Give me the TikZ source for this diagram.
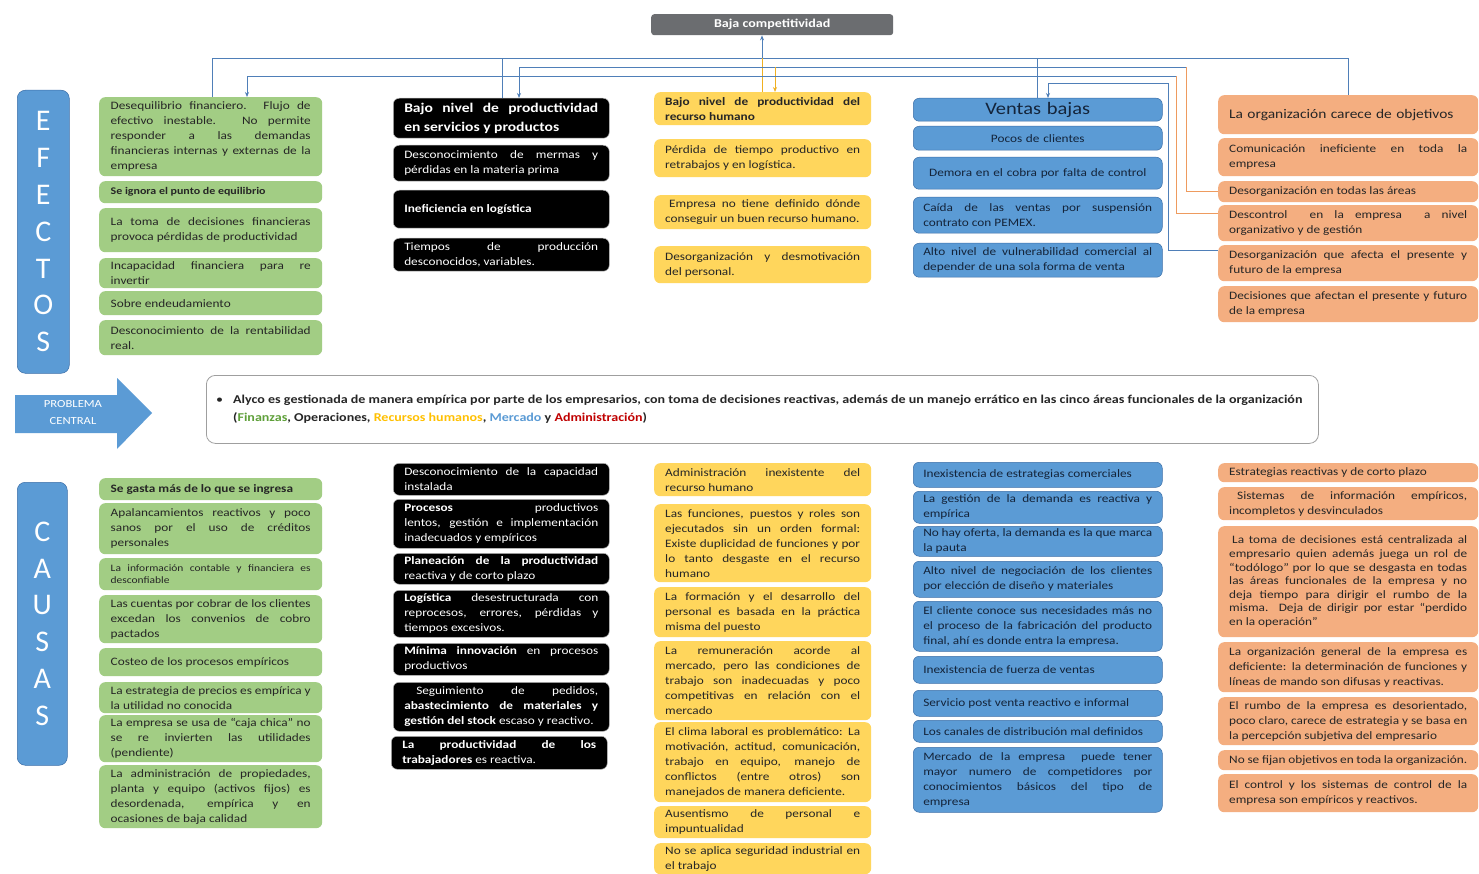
\documentclass[tikz,border=0pt]{standalone}
\usepackage{fontspec}
\setmainfont{Carlito}[FakeStretch=1.17]
\newfontfamily\plainfont{Carlito}
\usetikzlibrary{arrows.meta}
\definecolor{grn}{HTML}{A2CD84}
\definecolor{yel}{HTML}{FFD65C}
\definecolor{blu}{HTML}{5B9BD5}
\definecolor{bludk}{HTML}{3C6FA8}
\definecolor{org}{HTML}{F4AE80}
\definecolor{txt}{HTML}{262626}
\definecolor{navy}{HTML}{14243A}
\definecolor{lnb}{HTML}{4F7FB8}
\definecolor{lno}{HTML}{EE9B5F}
\definecolor{lny}{HTML}{F0B020}
\definecolor{gry}{HTML}{6B6D70}
\definecolor{fin}{HTML}{5FA03A}
\definecolor{rh}{HTML}{FFC000}
\definecolor{mk}{HTML}{5B9BD5}
\definecolor{adm}{HTML}{C00000}
\tolerance=10000 \hbadness=10000 \hfuzz=8pt
\hyphenpenalty=10000 \exhyphenpenalty=10000
\newcommand\fs{\fontsize{11.35}{15}\selectfont}
\newcommand\fsm{\fontsize{9.8}{12.5}\selectfont}
\newcommand\fbig{\fontsize{13.3}{19}\selectfont}
\tikzset{
  bx/.style={anchor=north west, rounded corners=6pt, align=justify, inner xsep=11pt, inner ysep=0.5pt, font=\fs},
  gbox/.style={bx, fill=grn, text=txt, inner xsep=11.5pt, text width=200pt},
  kbox/.style={bx, fill=black, draw=gray!55, line width=0.5pt, text=white, text width=194pt},
  ybox/.style={bx, fill=yel, text=txt, text width=195pt},
  ubox/.style={bx, fill=blu, draw=bludk, line width=0.5pt, text=navy, inner xsep=10pt, text width=229pt},
  obox/.style={bx, fill=org, text=txt, text width=238pt},
  side/.style={anchor=north west, fill=blu, draw=bludk, line width=0.5pt, rounded corners=8pt, text=white, align=center, font=\plainfont\fontsize{30}{36.8}\selectfont, inner sep=0pt},
  bl/.style={draw=lnb, line width=0.9pt},
  ol/.style={draw=lno, line width=0.9pt},
  yl/.style={draw=lny, line width=0.9pt},
  arr/.style={-{Stealth[length=5pt,width=4pt]}}
}
\begin{document}
\begin{tikzpicture}[x=1pt,y=-1pt]
\useasboundingbox (0,0) rectangle (1479,874);
\fill[white] (0,0) rectangle (1479,874);

% top
\node[anchor=north west, fill=gry, rounded corners=3pt, minimum width=242pt, minimum height=21pt, inner sep=0pt, text=white, font=\fontsize{12}{13}\selectfont\bfseries] (baja) at (651,14) {Baja competitividad};

% side labels
\node[side, minimum width=52pt, minimum height=283pt] (efx) at (17,90) {E\\F\\E\\C\\T\\O\\S};
\node[side, minimum width=50pt, minimum height=283pt] (cau) at (17,482) {C\\A\\U\\S\\A\\S};

% problema central arrow
\fill[blu] (15,395) -- (117,395) -- (117,378) -- (152,413) -- (117,449) -- (117,433) -- (15,433) -- cycle;
\node[text=white, align=center, font=\fontsize{10.8}{17}\selectfont, inner sep=0pt] (pc) at (73,413) {PROBLEMA\\CENTRAL};

% central box
\node[anchor=north west, draw=gray!75, line width=0.8pt, rounded corners=9pt, minimum width=1112pt, minimum height=68pt, inner sep=0pt] (cbox) at (206,375) {};
\node[anchor=west, inner sep=0pt, text=txt, font=\fontsize{12}{18}\selectfont\bfseries] (ptext) at (216,409) {\begin{tabular}{@{}l@{\hspace{10pt}}l@{}}{\mdseries\textbullet} & Alyco es gestionada de manera empírica por parte de los empresarios, con toma de decisiones reactivas, además de un manejo errático en las cinco áreas funcionales de la organización\\ & (\textcolor{fin}{Finanzas}, Operaciones, \textcolor{rh}{Recursos humanos}, \textcolor{mk}{Mercado} y \textcolor{adm}{Administración})\end{tabular}};

% ===== EFFECTS =====
\node[gbox, minimum height=79pt] (g1) at (99,97) {Desequilibrio financiero. Flujo de\linebreak efectivo inestable. No permite\linebreak responder a las demandas\linebreak financieras internas y externas de la\linebreak empresa};
\node[gbox, minimum height=22pt, font=\fontsize{10.2}{12.5}\selectfont\bfseries] (g2) at (99,181) {Se ignora el punto de equilibrio};
\node[gbox, minimum height=44pt] (g3) at (99,208) {La toma de decisiones financieras\linebreak provoca pérdidas de productividad};
\node[gbox, minimum height=30pt] (g4) at (99,258) {Incapacidad financiera para re\linebreak invertir};
\node[gbox, minimum height=24pt] (g5) at (99,291) {Sobre endeudamiento};
\node[gbox, minimum height=35pt] (g6) at (99,320) {Desconocimiento de la rentabilidad\linebreak real.};

\node[kbox, minimum height=40pt, font=\fbig\bfseries] (k1) at (393,98) {Bajo nivel de productividad\linebreak en servicios y productos};
\node[kbox, minimum height=36pt] (k2) at (393,145) {Desconocimiento de mermas y\linebreak pérdidas en la materia prima};
\node[kbox, minimum height=38pt, font=\fs\bfseries] (k3) at (393,190) {Ineficiencia en logística};
\node[kbox, minimum height=33pt] (k4) at (393,238) {Tiempos de producción\linebreak desconocidos, variables.};

\node[ybox, minimum height=33pt, font=\fs\bfseries] (y1) at (654,92) {Bajo nivel de productividad del\linebreak recurso humano};
\node[ybox, minimum height=38pt] (y2) at (654,139) {Pérdida de tiempo productivo en\linebreak retrabajos y en logística.};
\node[ybox, minimum height=34pt] (y3) at (654,195) {\hspace*{4pt}Empresa no tiene definido dónde\linebreak conseguir un buen recurso humano.};
\node[ybox, minimum height=37pt] (y4) at (654,246) {Desorganización y desmotivación\linebreak del personal.};

\node[ubox, minimum height=23pt, align=center, font=\fontsize{17.5}{20}\selectfont] (u1) at (913,98) {Ventas bajas};
\node[ubox, minimum height=24pt, align=center] (u2) at (913,126) {Pocos de clientes};
\node[ubox, minimum height=32pt, align=center] (u3) at (913,157) {Demora en el cobra por falta de control};
\node[ubox, minimum height=36pt] (u4) at (913,197) {Caída de las ventas por suspensión\linebreak contrato con PEMEX.};
\node[ubox, minimum height=34pt] (u5) at (913,243) {Alto nivel de vulnerabilidad comercial al\linebreak depender de una sola forma de venta};

\node[obox, minimum height=39pt, align=left, font=\fontsize{13.2}{16}\selectfont] (o1) at (1218,95) {La organización carece de objetivos};
\node[obox, minimum height=38pt] (o2) at (1218,138) {Comunicación ineficiente en toda la\linebreak empresa};
\node[obox, minimum height=21pt] (o3) at (1218,181) {Desorganización en todas las áreas};
\node[obox, minimum height=36pt] (o4) at (1218,205) {Descontrol\ \ en la empresa\ \ a nivel\linebreak organizativo y de gestión};
\node[obox, minimum height=36pt] (o5) at (1218,245) {Desorganización que afecta el presente y\linebreak futuro de la empresa};
\node[obox, minimum height=36pt] (o6) at (1218,286) {Decisiones que afectan el presente y futuro\linebreak de la empresa};

% ===== CAUSES =====
\node[gbox, minimum height=22pt, font=\fs\bfseries] (gc1) at (99,478) {Se gasta más de lo que se ingresa};
\node[gbox, minimum height=51pt] (gc2) at (99,503) {Apalancamientos reactivos y poco\linebreak sanos por el uso de créditos\linebreak personales};
\node[gbox, minimum height=32pt, font=\fsm] (gc3) at (99,558) {La información contable y financiera es\linebreak desconfiable};
\node[gbox, minimum height=48pt] (gc4) at (99,595) {Las cuentas por cobrar de los clientes\linebreak excedan los convenios de cobro\linebreak pactados};
\node[gbox, minimum height=28pt] (gc5) at (99,648) {Costeo de los procesos empíricos};
\node[gbox, minimum height=31pt] (gc6) at (99,682) {La estrategia de precios es empírica y\linebreak la utilidad no conocida};
\node[gbox, minimum height=47pt] (gc7) at (99,715) {La empresa se usa de “caja chica” no\linebreak se re invierten las utilidades\linebreak (pendiente)};
\node[gbox, minimum height=63pt] (gc8) at (99,765) {La administración de propiedades,\linebreak planta y equipo (activos fijos) es\linebreak desordenada, empírica y en\linebreak ocasiones de baja calidad};

\node[kbox, minimum height=32pt] (kc1) at (393,463) {Desconocimiento de la capacidad\linebreak instalada};
\node[kbox, minimum height=49pt] (kc2) at (393,499) {\textbf{Procesos} productivos\linebreak lentos, gestión e implementación\linebreak inadecuados y empíricos};
\node[kbox, minimum height=31pt] (kc3) at (393,553) {\textbf{Planeación de la productividad}\linebreak reactiva y de corto plazo};
\node[kbox, minimum height=47pt] (kc4) at (393,590) {\textbf{Logística} desestructurada con\linebreak reprocesos, errores, pérdidas y\linebreak tiempos excesivos.};
\node[kbox, minimum height=32pt] (kc5) at (393,643) {\textbf{Mínima innovación} en procesos\linebreak productivos};
\node[kbox, minimum height=49pt] (kc6) at (393,682) {\hspace*{12pt}Seguimiento de pedidos,\linebreak \textbf{abastecimiento de materiales y\linebreak gestión del stock} escaso y reactivo.};
\node[kbox, minimum height=33pt] (kc7) at (391,736) {\textbf{La productividad de los\linebreak trabajadores} es reactiva.};

\node[ybox, minimum height=33pt] (yc1) at (654,463) {Administración inexistente del\linebreak recurso humano};
\node[ybox, minimum height=78pt] (yc2) at (654,504) {Las funciones, puestos y roles son\linebreak ejecutados sin un orden formal:\linebreak Existe duplicidad de funciones y por\linebreak lo tanto desgaste en el recurso\linebreak humano};
\node[ybox, minimum height=50pt] (yc3) at (654,587) {La formación y el desarrollo del\linebreak personal es basada en la práctica\linebreak misma del puesto};
\node[ybox, minimum height=79pt] (yc4) at (654,641) {La remuneración acorde al\linebreak mercado, pero las condiciones de\linebreak trabajo son inadecuadas y poco\linebreak competitivas en relación con el\linebreak mercado};
\node[ybox, minimum height=80pt] (yc5) at (654,722) {El clima laboral es problemático: La\linebreak motivación, actitud, comunicación,\linebreak trabajo en equipo, manejo de\linebreak conflictos (entre otros) son\linebreak manejados de manera deficiente.};
\node[ybox, minimum height=32pt] (yc6) at (654,806) {Ausentismo de personal e\linebreak impuntualidad};
\node[ybox, minimum height=31pt] (yc7) at (654,843) {No se aplica seguridad industrial en\linebreak el trabajo};

\node[ubox, minimum height=25pt] (uc1) at (913,462) {Inexistencia de estrategias comerciales};
\node[ubox, minimum height=32pt] (uc2) at (913,491) {La gestión de la demanda es reactiva y\linebreak empírica};
\node[ubox, minimum height=30pt] (uc3) at (913,526) {No hay oferta, la demanda es la que marca\linebreak la pauta};
\node[ubox, minimum height=36pt] (uc4) at (913,561) {Alto nivel de negociación de los clientes\linebreak por elección de diseño y materiales};
\node[ubox, minimum height=50pt] (uc5) at (913,601) {El cliente conoce sus necesidades más no\linebreak el proceso de la fabricación del producto\linebreak final, ahí es donde entra la empresa.};
\node[ubox, minimum height=27pt] (uc6) at (913,656) {Inexistencia de fuerza de ventas};
\node[ubox, minimum height=26pt] (uc7) at (913,690) {Servicio post venta reactivo e informal};
\node[ubox, minimum height=22pt] (uc8) at (913,720) {Los canales de distribución mal definidos};
\node[ubox, minimum height=65pt] (uc9) at (913,747) {Mercado de la empresa\ \ puede tener\linebreak mayor numero de competidores por\linebreak conocimientos básicos del tipo de\linebreak empresa};

\node[obox, minimum height=19pt] (oc1) at (1218,463) {Estrategias reactivas y de corto plazo};
\node[obox, minimum height=33pt] (oc2) at (1218,487) {\hspace*{8pt}Sistemas de información empíricos,\linebreak incompletos y desvinculados};
\node[obox, minimum height=111pt, font=\fontsize{11.35}{13.6}\selectfont] (oc3) at (1218,526) {\hspace*{3pt}La toma de decisiones está centralizada al\linebreak empresario quien además juega un rol de\linebreak “todólogo” por lo que se desgasta en todas\linebreak las áreas funcionales de la empresa y no\linebreak deja tiempo para dirigir el rumbo de la\linebreak misma. Deja de dirigir por estar “perdido\linebreak en la operación”};
\node[obox, minimum height=50pt] (oc4) at (1218,642) {La organización general de la empresa es\linebreak deficiente: la determinación de funciones y\linebreak líneas de mando son difusas y reactivas.};
\node[obox, minimum height=48pt] (oc5) at (1218,697) {El rumbo de la empresa es desorientado,\linebreak poco claro, carece de estrategia y se basa en\linebreak la percepción subjetiva del empresario};
\node[obox, minimum height=20pt] (oc6) at (1218,750) {No se fijan objetivos en toda la organización.};
\node[obox, minimum height=38pt] (oc7) at (1218,774) {El control y los sistemas de control de la\linebreak empresa son empíricos y reactivos.};

% ===== CONNECTORS =====
\coordinate (L1) at (212,58);
\coordinate (R1) at (1348,58);
\coordinate (J1) at (502,58);
\coordinate (J2) at (1037,58);
\coordinate (JM) at (762,58);
\coordinate (A2) at (519,67);
\coordinate (Y2) at (775,67);
\coordinate (K1) at (1186,67);
\coordinate (A3) at (247,76);
\coordinate (K2) at (1176,76);
\coordinate (K2b) at (1176,213);
\coordinate (A4) at (1048,83);
\coordinate (K3) at (1168,83);
\coordinate (K3b) at (1168,250);

\draw[bl] (g1.north -| L1) -- (L1) -- (R1) -- (o1.north -| R1);
\draw[bl] (k1.north -| J1) -- (J1);
\draw[bl] (u1.north -| J2) -- (J2);
\draw[yl] (y1.north -| JM) -- (JM);
\draw[bl,arr] (JM) -- (baja.south -| JM);

\draw[ol] (o3.west) -- (o3.west -| K1) -- (K1);
\draw[bl,arr] (K1) -- (A2) -- (k1.north -| A2);
\draw[yl,arr] (Y2) -- (y1.north -| Y2);

\draw[ol] (o4.west |- K2b) -- (K2b) -- (K2);
\draw[bl,arr] (K2) -- (A3) -- (g1.north -| A3);

\draw[bl] (o5.west |- K3b) -- (K3b) -- (K3);
\draw[bl,arr] (K3) -- (A4) -- (u1.north -| A4);
\end{tikzpicture}
\end{document}
